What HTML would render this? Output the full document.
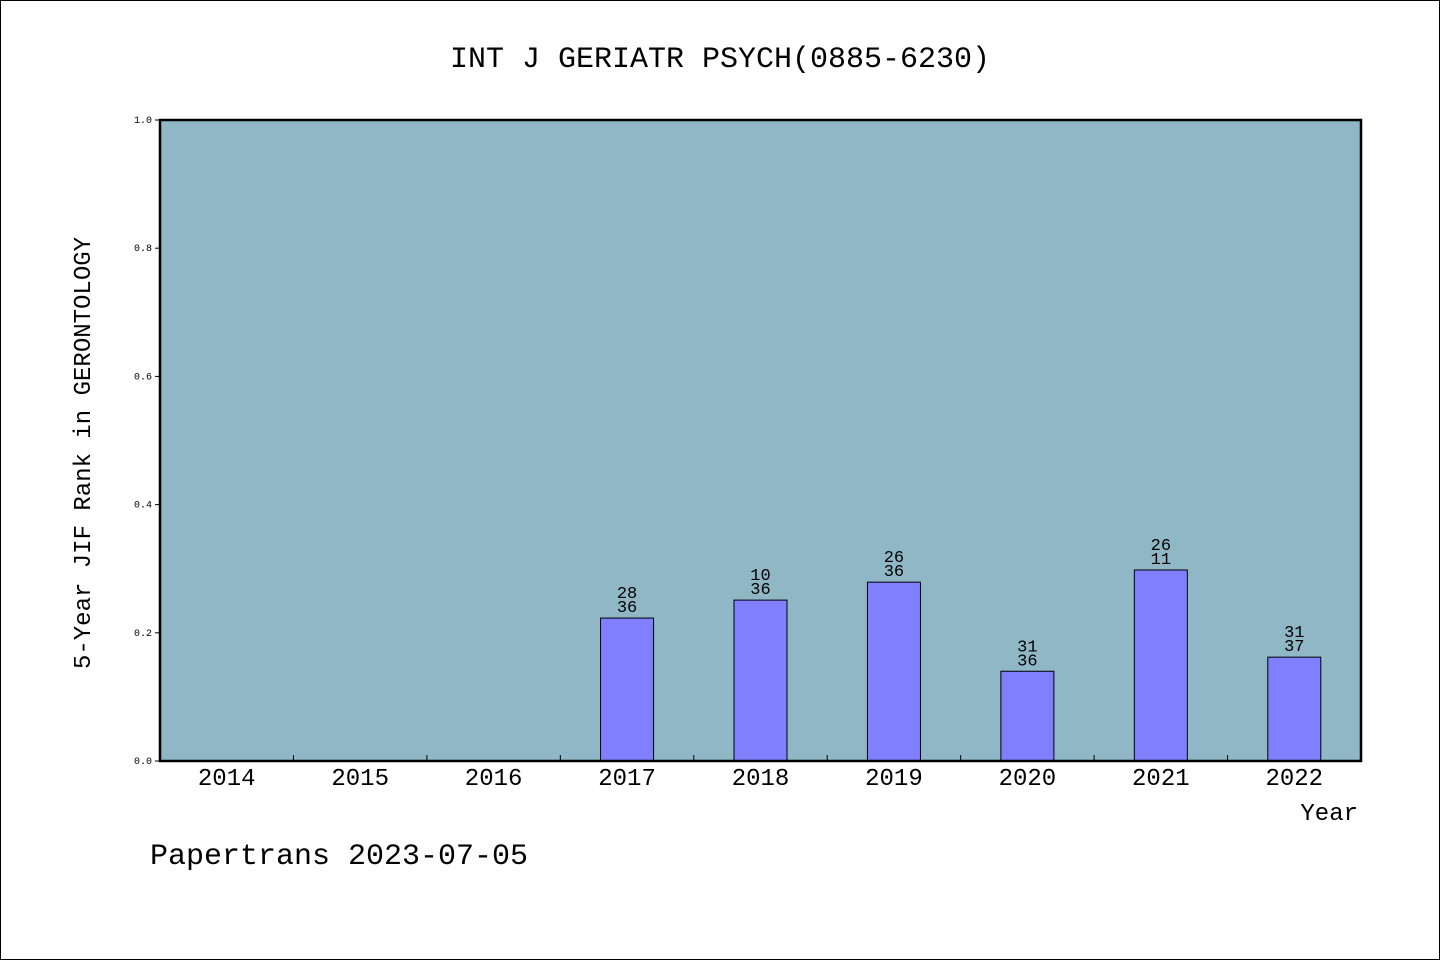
<!DOCTYPE html>
<html><head><meta charset="utf-8"><style>
html,body{margin:0;padding:0;background:#fff}
svg{display:block}
text{font-family:"WenQuanYi Zen Hei","Liberation Mono",monospace;fill:#000}
</style></head><body>
<svg id="chart" width="1440" height="960" xmlns="http://www.w3.org/2000/svg">
<rect x="0.5" y="0.5" width="1439" height="959" fill="#fff" stroke="#000"/>
<text x="720" y="67" text-anchor="middle" font-size="30">INT J GERIATR PSYCH(0885-6230)</text>
<rect x="160" y="120" width="1201" height="641" fill="#8fb7c6"/>
<g id="marks"></g>
<rect x="160" y="120" width="1201" height="641" fill="none" stroke="#000" stroke-width="2.5"/>
<text transform="translate(90,453) rotate(-90)" text-anchor="middle" font-size="24">5-Year JIF Rank in GERONTOLOGY</text>
<text x="1358" y="820" text-anchor="end" font-size="24">Year</text>
<text x="150" y="864" font-size="30">Papertrans 2023-07-05</text>
</svg>
<script>
const categories=["2014","2015","2016","2017","2018","2019","2020","2021","2022"];
const values=[null,null,null,0.223,0.251,0.279,0.14,0.298,0.162];
const ranks=[null,null,null,"28","10","26","31","26","31"];
const totals=[null,null,null,"36","36","36","36","11","37"];
const yTicks=[0,0.2,0.4,0.6,0.8,1.0];
const yTickLabels=["0.0","0.2","0.4","0.6","0.8","1.0"];
const NS="http://www.w3.org/2000/svg";
const X0=160,X1=1361,Y0=761,Y1=120;
const band=(X1-X0)/categories.length;
const xc=i=>X0+band*(i+0.5);
const y=v=>Y0-(Y0-Y1)*v;
const g=document.getElementById('marks');
function mk(t,a){const e=document.createElementNS(NS,t);for(const k in a)e.setAttribute(k,a[k]);g.appendChild(e);return e;}
yTicks.forEach((v,i)=>{
  const l=mk('line',{x1:155,x2:160,y1:y(v),y2:y(v),stroke:'#000'});
  
  
  const t=mk('text',{x:152,y:y(v)+3,'text-anchor':'end','font-size':10});
  t.textContent=yTickLabels[i];
  
  
});
categories.forEach((c,i)=>{
  if(i>0){const l=mk('line',{x1:X0+band*i,x2:X0+band*i,y1:Y0,y2:Y0-6,stroke:'#000'});
  
  }
  const t=mk('text',{x:xc(i),y:785,'text-anchor':'middle','font-size':24});
  t.textContent=c;
  
  
  if(values[i]!=null){
    const w=53;
    const r=mk('rect',{x:xc(i)-w/2,y:y(values[i]),width:w,height:Y0-y(values[i]),fill:'#8080ff',stroke:'#000','stroke-width':1});
    
    
    const a=mk('text',{x:xc(i),y:y(values[i])-20,'text-anchor':'middle','font-size':17});
    a.textContent=ranks[i];
    
    
    const b=mk('text',{x:xc(i),y:y(values[i])-6,'text-anchor':'middle','font-size':17});
    b.textContent=totals[i];
    
    
  }
});
</script>
</body></html>
